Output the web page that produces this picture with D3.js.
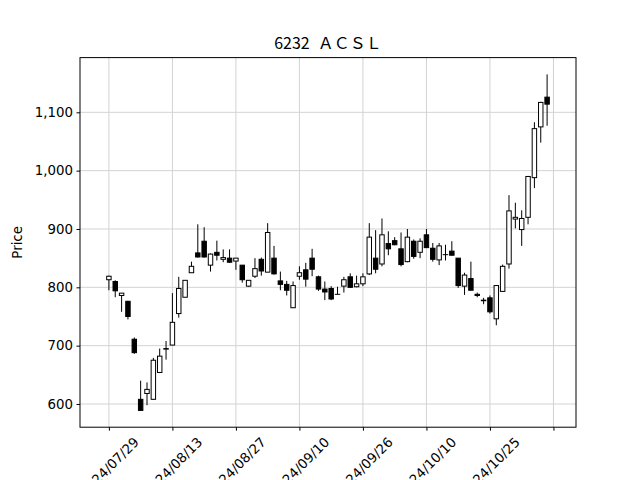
<!DOCTYPE html>
<html>
<head>
<meta charset="utf-8">
<script src="https://cdn.jsdelivr.net/npm/d3@7/dist/d3.min.js"></script>
<style>
    body { margin: 0; background: #ffffff; }
    text { font-family: "DejaVu Sans", sans-serif; }
</style>
</head>
<body>
<div id="chart"></div>
<script>
// daily prices
var dates = ['2024/07/29', '2024/07/30', '2024/07/31', '2024/08/01', '2024/08/02', '2024/08/05', '2024/08/06',
    '2024/08/07', '2024/08/08', '2024/08/09', '2024/08/13', '2024/08/14', '2024/08/15', '2024/08/16', '2024/08/19',
    '2024/08/20', '2024/08/21', '2024/08/22', '2024/08/23', '2024/08/26', '2024/08/27', '2024/08/28', '2024/08/29',
    '2024/08/30', '2024/09/02', '2024/09/03', '2024/09/04', '2024/09/05', '2024/09/06', '2024/09/09', '2024/09/10',
    '2024/09/11', '2024/09/12', '2024/09/13', '2024/09/17', '2024/09/18', '2024/09/19', '2024/09/20', '2024/09/24',
    '2024/09/25', '2024/09/26', '2024/09/27', '2024/09/30', '2024/10/01', '2024/10/02', '2024/10/03', '2024/10/04',
    '2024/10/07', '2024/10/08', '2024/10/09', '2024/10/10', '2024/10/11', '2024/10/15', '2024/10/16', '2024/10/17',
    '2024/10/18', '2024/10/21', '2024/10/22', '2024/10/23', '2024/10/24', '2024/10/25', '2024/10/28', '2024/10/29',
    '2024/10/30', '2024/10/31', '2024/11/01', '2024/11/05', '2024/11/06', '2024/11/07', '2024/11/08'];

var opens = [813, 810, 786, 776, 711, 608, 618, 608, 654, 694,
    701, 755, 783, 825, 859, 879, 838, 860, 848, 850,
    845, 838, 802, 819, 848, 826, 850, 811, 805, 765,
    819, 830, 850, 818, 797, 798, 788, 802, 818, 801,
    806, 823, 850, 840, 875, 880, 866, 844, 879, 860,
    890, 867, 847, 856, 862, 850, 802, 815, 788, 778,
    782, 746, 793, 840, 917, 899, 920, 988, 1075, 1126];

var highs = [820, 812, 790, 777, 714, 640, 637, 679, 695, 708,
    790, 818, 812, 844, 908, 903, 858, 880, 865, 865,
    850, 838, 812, 850, 851, 910, 871, 827, 811, 810,
    836, 842, 866, 820, 810, 802, 801, 818, 824, 820,
    824, 910, 898, 918, 896, 886, 894, 900, 882, 884,
    900, 876, 876, 873, 879, 850, 825, 844, 791, 782,
    786, 804, 839, 958, 945, 932, 991, 1083, 1118, 1165];

var lows = [795, 783, 758, 745, 686, 589, 598, 607, 653, 676,
    701, 748, 783, 825, 851, 851, 827, 846, 843, 842,
    830, 808, 801, 816, 820, 826, 822, 795, 786, 765,
    813, 801, 819, 794, 778, 778, 788, 791, 799, 800,
    802, 821, 824, 836, 855, 872, 836, 843, 849, 850,
    868, 844, 838, 846, 855, 799, 787, 795, 783, 771,
    755, 735, 793, 832, 901, 871, 908, 970, 1048, 1077];

var closes = [819, 794, 790, 750, 688, 589, 625, 675, 682, 695,
    740, 798, 812, 836, 852, 852, 857, 855, 851, 843,
    850, 813, 812, 832, 828, 894, 823, 805, 795, 803,
    825, 814, 831, 797, 792, 780, 788, 813, 800, 806,
    818, 886, 831, 890, 866, 873, 839, 886, 853, 879,
    868, 848, 871, 856, 855, 803, 821, 795, 786, 777,
    758, 803, 836, 931, 920, 918, 990, 1072, 1117, 1114];

var xTicks = [0, 10, 20, 30, 40, 50, 60, 70];
var yTicks = [600, 700, 800, 900, 1000, 1100];
var title = '6232\u2002ＡＣＳＬ';

(function () {
    var width = 640;
    var height = 480;
    var left = 80, right = 576, top = 57.6, bottom = 427.2;
    var n = dates.length;
    var fontSize = 13.33;

    var svg = d3.select('#chart')
        .append('svg')
        .attr('width', width)
        .attr('height', height);

    // index based x, like mplfinance (no gaps for weekends)
    var x = d3.scaleLinear()
        .domain([-0.065 * n, n - 1 + 0.065 * n])
        .range([left, right]);

    var lowMin = d3.min(lows);
    var highMax = d3.max(highs);
    var pad = (highMax - lowMin) * 0.05;
    var y = d3.scaleLinear()
        .domain([lowMin - pad, highMax + pad])
        .range([bottom, top]);

    // grid
    svg.append('g')
        .selectAll('line.v')
        .data(xTicks)
        .enter()
        .append('line')
        .attr('x1', function (d) { return x(d); })
        .attr('x2', function (d) { return x(d); })
        .attr('y1', top)
        .attr('y2', bottom)
        .attr('stroke', '#d3d3d3')
        .attr('stroke-width', 1);

    svg.append('g')
        .selectAll('line.h')
        .data(yTicks)
        .enter()
        .append('line')
        .attr('x1', left)
        .attr('x2', right)
        .attr('y1', function (d) { return y(d); })
        .attr('y2', function (d) { return y(d); })
        .attr('stroke', '#d3d3d3')
        .attr('stroke-width', 1);

    /**
     * candles: wick first, body on top. Up days are hollow, down days black
     */
    var bodyWidth = x(0.7) - x(0);
    var candle = svg.append('g')
        .selectAll('g')
        .data(d3.range(n))
        .enter()
        .append('g');

    candle.append('line')
        .attr('x1', function (i) { return x(i); })
        .attr('x2', function (i) { return x(i); })
        .attr('y1', function (i) { return y(highs[i]); })
        .attr('y2', function (i) { return y(lows[i]); })
        .attr('stroke', '#000')
        .attr('stroke-width', 1);

    candle.append('rect')
        .attr('x', function (i) { return x(i) - bodyWidth / 2; })
        .attr('width', bodyWidth)
        .attr('y', function (i) { return y(Math.max(opens[i], closes[i])); })
        .attr('height', function (i) {
            return Math.max(0.01, Math.abs(y(opens[i]) - y(closes[i])));
        })
        .attr('fill', function (i) { return closes[i] >= opens[i] ? '#ffffff' : '#000000'; })
        .attr('stroke', '#000')
        .attr('stroke-width', 1);

    // axes
    var yAxis = svg.append('g')
        .attr('transform', 'translate(' + left + ',0)')
        .call(d3.axisLeft(y)
            .tickValues(yTicks)
            .tickFormat(d3.format(','))
            .tickSize(3.5)
            .tickPadding(3.5));

    var xAxis = svg.append('g')
        .attr('transform', 'translate(0,' + bottom + ')')
        .call(d3.axisBottom(x)
            .tickValues(xTicks)
            .tickFormat(function (i) { return i < n ? dates[i] : ''; })
            .tickSize(3.5)
            .tickPadding(3.5));

    [xAxis, yAxis].forEach(function (ax) {
        ax.select('.domain').remove();
        ax.selectAll('line').attr('stroke', '#000').attr('stroke-width', 1);
        ax.selectAll('text')
            .attr('fill', '#000')
            .style('font-family', '"DejaVu Sans", sans-serif')
            .style('font-size', fontSize + 'px');
    });

    // rotated date labels, box centred under the tick like matplotlib
    xAxis.selectAll('text').each(function () {
        var w = this.getComputedTextLength();
        var half = (w + fontSize * 1.17) * Math.SQRT1_2 / 2;
        d3.select(this)
            .attr('y', null)
            .attr('dy', null)
            .attr('dominant-baseline', 'central')
            .attr('transform', 'translate(0,' + (7 + half) + ') rotate(-45)');
    });

    // frame
    svg.append('rect')
        .attr('x', left)
        .attr('y', top)
        .attr('width', right - left)
        .attr('height', bottom - top)
        .attr('fill', 'none')
        .attr('stroke', '#000')
        .attr('stroke-width', 1);

    svg.append('text')
        .attr('x', (left + right) / 2)
        .attr('y', 48.5)
        .attr('text-anchor', 'middle')
        .style('font-family', '"Noto Sans CJK JP", sans-serif')
        .style('font-size', '16px')
        .text(title);

    svg.append('text')
        .attr('transform', 'translate(22,' + ((top + bottom) / 2) + ') rotate(-90)')
        .attr('text-anchor', 'middle')
        .style('font-size', fontSize + 'px')
        .text('Price');
})();
</script>
</body>
</html>
